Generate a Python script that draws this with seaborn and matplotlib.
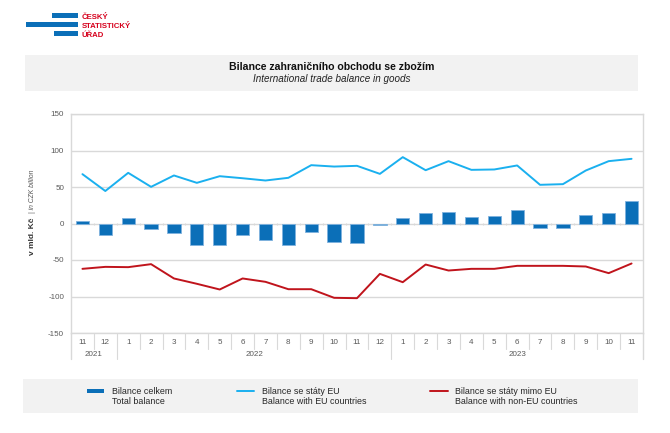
import matplotlib
matplotlib.use("Agg")
import matplotlib.pyplot as plt
import matplotlib.transforms as mtransforms
from matplotlib.patches import Rectangle
from matplotlib.lines import Line2D
import seaborn as sns
import pandas as pd
import numpy as np

# ---------------- data ----------------
months = ["11", "12", "1", "2", "3", "4", "5", "6", "7", "8", "9", "10", "11", "12",
          "1", "2", "3", "4", "5", "6", "7", "8", "9", "10", "11"]
years = ["2021", "2022", "2023"]
year_counts = [2, 12, 11]
total_balance = [3.7, -16.4, 7.8, -7.8, -12.8, -29.2, -28.8, -16.0, -22.4, -29.7, -12.3, -25.6, -26.5,
                 -2.3, 7.3, 14.2, 16.4, 8.7, 9.6, 18.3, -6.8, -5.5, 11.9, 14.6, 30.6]
eu_balance = [67.6, 44.5, 69.4, 50.2, 65.8, 55.7, 64.8, 62.0, 58.9, 62.6, 79.9, 78.0, 79.0,
              68.0, 90.9, 73.0, 85.4, 73.5, 74.0, 79.5, 53.0, 53.9, 72.6, 85.4, 88.6]
non_eu_balance = [-62.1, -59.4, -59.8, -55.7, -75.3, -82.6, -90.4, -75.3, -79.9, -90.0, -90.0, -101.8, -102.3,
                  -69.0, -80.4, -56.2, -64.4, -62.1, -62.1, -58.0, -58.0, -58.0, -58.9, -68.0, -54.8]
y_ticks = [-150, -100, -50, 0, 50, 100, 150]

title_cz = "Bilance zahraničního obchodu se zbožím"
title_en = "International trade balance in goods"
legend_cz = ["Bilance celkem", "Bilance se státy EU", "Bilance se státy mimo EU"]
legend_en = ["Total balance", "Balance with EU countries", "Balance with non-EU countries"]
logo_lines = ["ČESKÝ", "STATISTICKÝ", "ÚŘAD"]

# ---------------- style ----------------
sns.set_theme(style="white")
plt.rcParams["font.family"] = ["Liberation Sans", "DejaVu Sans"]

BAR = "#0b6fb8"
BAR_EDGE = "#7fb2de"
EU = "#1ab0ef"
NONEU = "#c0141c"
GRID = "#d9d9d9"
TICK = "#595959"
BOXBG = "#f2f2f2"
LOGO_RED = "#d6001c"

W, H = 670, 433
fig = plt.figure(figsize=(W / 100, H / 100), dpi=100)


def fx(px):
    return px / W


def fy(py):
    return 1 - py / H


# ---------------- logo ----------------
for (x0, y0, x1, y1) in [(52, 13, 78, 18), (26, 22, 78, 27), (54, 31, 78, 36)]:
    fig.patches.append(Rectangle((fx(x0), fy(y1)), fx(x1) - fx(x0), fy(y0) - fy(y1),
                                 transform=fig.transFigure, color=BAR, lw=0))
for txt, base in zip(logo_lines, [19.3, 27.8, 36.8]):
    fig.text(fx(82), fy(base), txt, color=LOGO_RED, fontsize=5.6, fontweight="bold",
             ha="left", va="baseline")

# ---------------- title box ----------------
fig.patches.append(Rectangle((fx(25), fy(91)), fx(638) - fx(25), fy(55) - fy(91),
                             transform=fig.transFigure, color=BOXBG, lw=0, zorder=0))
fig.text(fx(332), fy(67), title_cz, fontsize=7.6, fontweight="bold", ha="center", va="center",
         color="#111111")
fig.text(fx(332), fy(79), title_en, fontsize=7.1, fontstyle="italic", ha="center", va="center",
         color="#222222")

# ---------------- main axes ----------------
x_left, x_right, y_top, y_bot = 71, 643, 114, 333
ax = fig.add_axes([fx(x_left), fy(y_bot), fx(x_right) - fx(x_left), fy(y_top) - fy(y_bot)])
df = pd.DataFrame({
    "idx": np.arange(len(months)),
    "total": total_balance,
    "eu": eu_balance,
    "non_eu": non_eu_balance,
})
sns.barplot(data=df, x="idx", y="total", native_scale=True, width=0.58, color=BAR,
            saturation=1, edgecolor=BAR_EDGE, linewidth=0.6, ax=ax, zorder=3)
sns.lineplot(data=df, x="idx", y="eu", color=EU, lw=1.4, ax=ax, zorder=4)
sns.lineplot(data=df, x="idx", y="non_eu", color=NONEU, lw=1.4, ax=ax, zorder=4)

n = len(months)
ax.set_xlim(-0.5, n - 0.5)
ax.set_ylim(-150, 150)
ax.set_yticks(y_ticks)
ax.set_yticklabels([str(v) for v in y_ticks])
ax.set_xticks([])
ax.set_xlabel("")
ax.set_ylabel("")
ax.grid(axis="y", color=GRID, lw=1)
ax.grid(axis="x", visible=False)
ax.set_axisbelow(True)
for s in ax.spines.values():
    s.set_color(GRID)
    s.set_linewidth(1)
ax.tick_params(axis="y", length=0, labelsize=5.8, labelcolor=TICK, pad=5)

# small ticks on the zero line at category boundaries
ax.vlines(np.arange(n - 1) + 0.5, -2.2, 0.6, color=GRID, lw=0.8, zorder=2)

# category axis below plot
trans = mtransforms.blended_transform_factory(ax.transData, ax.transAxes)
ph = y_bot - y_top
month_sep = -(349 - y_bot) / ph
year_sep = -(359 - y_bot) / ph
for i, m in enumerate(months):
    ax.text(i, -(342 - y_bot) / ph, m, transform=trans, ha="center", va="center",
            fontsize=5.8, color=TICK)
year_bounds = np.cumsum([0] + year_counts) - 0.5
for b in range(1, n):
    xb = b - 0.5
    depth = year_sep if np.any(np.isclose(year_bounds, xb)) else month_sep
    ax.plot([xb, xb], [0, depth], transform=trans, clip_on=False, color=GRID, lw=0.8)
for xb in [-0.5, n - 0.5]:
    ax.plot([xb, xb], [0, year_sep], transform=trans, clip_on=False, color=GRID, lw=1)
start = 0
for yr, cnt in zip(years, year_counts):
    ax.text(start + cnt / 2 - 0.5, -(355 - y_bot) / ph, yr, transform=trans, ha="center",
            va="center", fontsize=5.8, color=TICK)
    start += cnt

# y label: bold Czech part + italic English part
fig.text(fx(33), fy(255), "v mld. Kč", rotation=90, ha="center", va="bottom",
         fontsize=6.0, fontweight="bold", color="#333333")
fig.text(fx(33), fy(213), "| in CZK billion", rotation=90, ha="center", va="bottom",
         fontsize=4.9, fontstyle="italic", color="#555555")

# ---------------- legend box ----------------
fig.patches.append(Rectangle((fx(23), fy(413)), fx(638) - fx(23), fy(379) - fy(413),
                             transform=fig.transFigure, color=BOXBG, lw=0, zorder=0))
fig.patches.append(Rectangle((fx(87), fy(393)), fx(104) - fx(87), fy(389) - fy(393),
                             transform=fig.transFigure, color=BAR, lw=0))
fig.add_artist(Line2D([fx(237), fx(254)], [fy(391), fy(391)], transform=fig.transFigure,
                      color=EU, lw=1.4))
fig.add_artist(Line2D([fx(430), fx(448)], [fy(391), fy(391)], transform=fig.transFigure,
                      color=NONEU, lw=1.4))
for xt, cz, en in zip([112, 262, 455], legend_cz, legend_en):
    fig.text(fx(xt), fy(391), cz, fontsize=6.4, ha="left", va="center", color="#262626")
    fig.text(fx(xt), fy(402), en, fontsize=6.4, ha="left", va="center", color="#262626")

fig.savefig("out.png", dpi=100)
